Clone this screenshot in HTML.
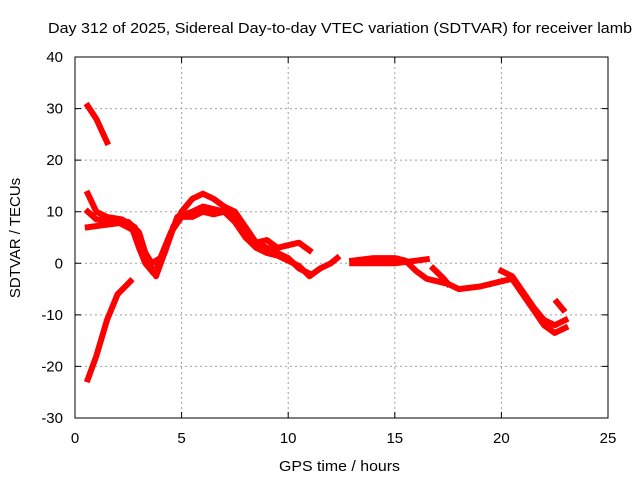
<!DOCTYPE html>
<html><head><meta charset="utf-8"><style>
body{margin:0;background:#fff}
svg{display:block;font-family:"Liberation Sans",sans-serif}
</style></head><body>
<svg id="c" width="640" height="480">
<text x="48" y="33" font-size="15" textLength="584" lengthAdjust="spacingAndGlyphs">Day 312 of 2025, Sidereal Day-to-day VTEC variation (SDTVAR) for receiver lamb</text>
<text x="279" y="471" font-size="15" textLength="121" lengthAdjust="spacingAndGlyphs">GPS time / hours</text>
<text transform="translate(20,238) rotate(-90)" font-size="15" text-anchor="middle">SDTVAR / TECUs</text>
<g id="grid"></g>
<g id="series"></g>
<rect x="75" y="57" width="533" height="361" fill="none" stroke="#000" stroke-width="1"/>
<g id="ticks"></g>
</svg>
<script>
const xTicks=[0,5,10,15,20,25];
const yTicks=[-30,-20,-10,0,10,20,30,40];
const trackA=[[0.6,30.5],[1,28],[1.5,23.5]];
const trackB=[[0.6,-22.5],[1,-18],[1.5,-11],[2,-6],[2.6,-3.5]];
const trackC=[[0.6,13.5],[1,10],[1.5,9],[2.2,8.5],[2.8,7],[3.2,3],[3.6,-1],[3.8,-2.5],[4.2,2],[4.6,7],[5,10],[5.5,12.5],[6,13.5],[6.5,12.5],[7,11],[7.5,10],[8,7],[8.5,4],[9,4.5],[9.5,3],[10,3.5],[10.5,4],[11,2.5]];
const trackD=[[0.6,10],[1,8.5],[2,8],[2.7,6.5],[3,3],[3.3,0],[3.7,-2],[4.2,2],[4.8,9],[5.5,10],[6,11],[7,10],[7.5,9],[8,5],[8.5,3],[9,2],[9.5,1.5],[10,0.5],[10.5,-0.5],[11,-2.5],[11.5,-1],[12,0],[12.3,1]];
const trackE=[[0.6,7],[1.5,7.5],[2.5,8],[3,6],[3.3,2],[3.6,0],[4,1],[4.5,6],[5,9],[5.5,9],[6,10],[6.5,9.5],[7,10],[7.5,8],[8,5],[9,3],[10,1],[10.5,-1],[11,-2]];
const trackF=[[13,0.5],[14,1],[15,1],[15.5,0.5],[16,-1.5],[16.5,-3],[17,-3.5],[17.5,-4],[18,-5],[19,-4.5],[20,-3.5],[20.5,-3],[21,-6],[21.5,-9],[22,-12],[22.5,-13.5],[23,-12.5]];
const trackG=[[13,0],[14,0],[15,0],[16,0.5],[16.5,0.8]];
const trackH=[[16.8,-1],[17.3,-3],[17.5,-4]];
const trackI=[[20,-1.5],[20.5,-2.5],[21,-5.5],[21.5,-8.5],[22,-11],[22.5,-12],[23,-11]];
const trackJ=[[22.6,-7.5],[22.9,-9]];
const tracks=[trackA,trackB,trackC,trackD,trackE,trackF,trackG,trackH,trackI,trackJ];
const X=h=>75+h*533/25, Y=v=>57+(40-v)*361/70;
const NS='http://www.w3.org/2000/svg';
const grid=document.getElementById('grid'),ticks=document.getElementById('ticks'),ser=document.getElementById('series');
function mk(t,a,p){const e=document.createElementNS(NS,t);for(const k in a)e.setAttribute(k,a[k]);p.appendChild(e);return e;}
xTicks.forEach(t=>{const x=X(t);
 if(t>0&&t<25){const l=mk('line',{x1:x,x2:x,y1:57,y2:418,stroke:'#a0a0a0','stroke-dasharray':'2,3'},grid);
 }
 const tk=mk('path',{d:`M${x},418v-6M${x},57v6`,stroke:'#000'},ticks);
 
 const tx=mk('text',{x:x,y:443,'font-size':15,'text-anchor':'middle'},ticks);tx.textContent=t;
 });
yTicks.forEach(t=>{const y=Y(t);
 if(t>-30&&t<40){const l=mk('line',{x1:75,x2:608,y1:y,y2:y,stroke:'#a0a0a0','stroke-dasharray':'2,3'},grid);
 }
 const tk=mk('path',{d:`M75,${y}h6M608,${y}h-6`,stroke:'#000'},ticks);
 
 const tx=mk('text',{x:63,y:y+5,'font-size':15,'text-anchor':'end'},ticks);tx.textContent=t;
 });
tracks.forEach(tr=>{const d=tr.map((p,i)=>(i?'L':'M')+X(p[0]).toFixed(1)+','+Y(p[1]).toFixed(1)).join('');
 const p=mk('path',{d:d,fill:'none',stroke:'#ff0000','stroke-width':6,'stroke-linejoin':'round','stroke-linecap':'square'},ser);
 });
</script>
</body></html>
